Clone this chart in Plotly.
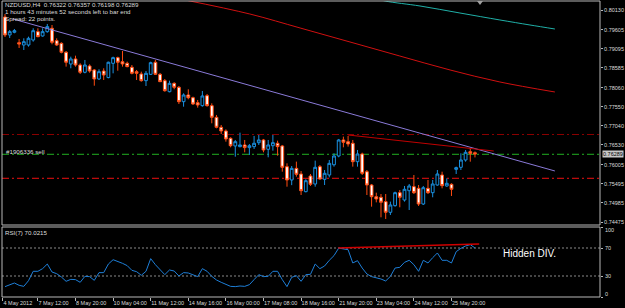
import plotly.graph_objects as go

# ---------------- data ----------------
opens = [0.79943,0.79464,0.79536,0.79258,0.79196,0.79196,0.79330,0.79552,0.79437,0.79552,
         0.79642,0.79311,0.79241,0.79002,0.78690,0.78824,0.78663,0.78469,0.78637,0.78530,
         0.78290,0.78503,0.78327,0.78708,0.78859,0.78752,0.78708,0.78602,0.78485,0.78423,
         0.78245,0.78414,0.78736,0.78414,0.78245,0.77951,0.78174,0.78068,0.77685,0.77863,
         0.77791,0.77658,0.77578,0.77845,0.77578,0.77268,0.77001,0.76903,0.76707,0.76503,
         0.76485,0.76530,0.76459,0.76485,0.76591,0.76663,0.76414,0.76510,0.76575,0.76503,
         0.75951,0.75596,0.75906,0.75755,0.75284,0.75702,0.75489,0.75951,0.75614,0.75729,
         0.76002,0.76236,0.76663,0.76618,0.76575,0.76084,0.76289,0.75817,0.75462,0.75150,
         0.75134,0.75018,0.74734,0.74911,0.75257,0.75062,0.75310,0.75418,0.75373,0.74955,
         0.75373,0.75257,0.75462,0.75729,0.75436,0.75480,0.75880,0.75934,0.76129,0.76351,
         0.76322]
highs = [0.80023,0.79597,0.79624,0.79357,0.79375,0.79419,0.79642,0.79642,0.79642,0.79757,
         0.79730,0.79375,0.79268,0.79036,0.78885,0.78912,0.78708,0.78797,0.78681,0.78557,
         0.78548,0.78575,0.78752,0.78885,0.78885,0.79036,0.78752,0.78663,0.78530,0.78485,
         0.78503,0.78752,0.78797,0.78450,0.78290,0.78245,0.78201,0.78103,0.77907,0.78015,
         0.77819,0.77730,0.77970,0.77890,0.77641,0.77330,0.77063,0.76947,0.76734,0.76663,
         0.76858,0.76663,0.76556,0.76770,0.76796,0.76690,0.76663,0.76796,0.76645,0.76530,
         0.76040,0.75968,0.76085,0.75835,0.75615,0.75755,0.76112,0.75995,0.75862,0.76129,
         0.76307,0.76690,0.76752,0.76770,0.76663,0.76396,0.76324,0.75862,0.75489,0.75257,
         0.75222,0.75222,0.75018,0.75284,0.75329,0.75436,0.75489,0.75729,0.75462,0.75436,
         0.75596,0.75596,0.75862,0.75817,0.75640,0.75507,0.75951,0.76307,0.76396,0.76441,
         0.76357]
lows = [0.79410,0.79384,0.79509,0.79117,0.79063,0.79152,0.79285,0.79402,0.79419,0.79525,
        0.79215,0.79170,0.78975,0.78619,0.78575,0.78619,0.78423,0.78441,0.78458,0.78111,
        0.78263,0.78263,0.78308,0.78441,0.78511,0.78619,0.78602,0.78414,0.78263,0.78218,
        0.78103,0.78396,0.78396,0.78210,0.77951,0.77934,0.78015,0.77623,0.77551,0.77748,
        0.77596,0.77525,0.77551,0.77551,0.77108,0.76974,0.76823,0.76618,0.76467,0.76217,
        0.76467,0.76334,0.76263,0.76423,0.76530,0.76334,0.76201,0.76378,0.76244,0.75817,
        0.75417,0.75458,0.75684,0.75195,0.75267,0.75436,0.75417,0.75596,0.75462,0.75666,
        0.75951,0.76201,0.76467,0.76485,0.75951,0.75951,0.75729,0.75195,0.74884,0.74999,
        0.74600,0.74555,0.74662,0.74884,0.74867,0.75018,0.74795,0.75222,0.74902,0.74929,
        0.75222,0.75134,0.75444,0.75373,0.75417,0.75169,0.75755,0.75862,0.76084,0.76084,
        0.76198]
closes = [0.79464,0.79552,0.79578,0.79223,0.79285,0.79375,0.79578,0.79419,0.79552,0.79686,
          0.79268,0.79196,0.79002,0.78736,0.78824,0.78663,0.78469,0.78663,0.78503,0.78290,
          0.78485,0.78396,0.78736,0.78859,0.78736,0.78690,0.78619,0.78441,0.78441,0.78245,
          0.78441,0.78725,0.78414,0.78218,0.77977,0.78174,0.78068,0.77685,0.77863,0.77791,
          0.77623,0.77596,0.77837,0.77578,0.77268,0.77001,0.76903,0.76689,0.76510,0.76618,
          0.76530,0.76459,0.76510,0.76575,0.76663,0.76396,0.76530,0.76591,0.76485,0.75934,
          0.75596,0.75906,0.75747,0.75310,0.75577,0.75481,0.75934,0.75622,0.75774,0.76040,
          0.76236,0.76663,0.76601,0.76556,0.76084,0.76289,0.75773,0.75462,0.75150,0.75089,
          0.75001,0.74734,0.74929,0.75257,0.75134,0.75347,0.75436,0.75257,0.74955,0.75390,
          0.75257,0.75489,0.75755,0.75444,0.75507,0.75347,0.75924,0.76129,0.76334,0.76307,
          0.76289]
rsi = [14.8,17.6,20.0,16.7,15.2,23.3,36.7,36.7,40.5,47.1,
       35.7,33.3,28.6,22.4,25.2,24.8,21.0,29.5,29.1,23.8,
       34.8,34.8,47.1,53.3,51.0,48.1,44.8,38.1,36.2,31.0,
       36.7,54.8,46.2,38.6,31.9,38.6,37.1,30.0,34.8,34.3,
       31.9,29.1,40.5,36.7,29.5,24.3,21.0,18.1,15.2,14.8,
       15.7,15.2,17.6,24.8,31.9,29.1,29.5,36.7,36.7,24.8,
       14.8,28.1,30.5,22.4,31.9,32.4,47.1,40.5,44.3,52.4,
       59.1,69.8,69.0,67.6,48.6,51.9,41.4,32.9,29.1,27.6,
       25.7,22.9,29.5,41.4,42.4,49.5,52.4,46.2,36.7,52.4,
       48.6,56.2,62.9,52.4,52.4,48.6,64.8,69.5,72.9,74.8,
       70.02]
bars = list(range(len(opens)))

# moving averages (bar index, price)
ma_red_x = [38.3, 52.1, 62.8, 73.4, 84.0, 94.7, 105.3, 117.0]
ma_red_y = [0.80397, 0.80023, 0.79650, 0.79277, 0.78903, 0.78530, 0.78210, 0.77943]
ma_teal_x = [77.7, 80.9, 88.3, 96.8, 105.3, 111.7, 117.0]
ma_teal_y = [0.80477, 0.80370, 0.80237, 0.80050, 0.79864, 0.79730, 0.79623]

# trend lines (bar index, price)
trend_blue_x = [1.7, 117.0]
trend_blue_y = [0.79890, 0.75836]
trend_red_x = [73.0, 104.0]
trend_red_y = [0.76796, 0.76369]
rsi_div_x = [70.9, 100.9]
rsi_div_y = [70.0, 75.6]

# horizontal levels
level_prices = [0.76809, 0.76281, 0.75641]
level_colors = ["#8b0000", "#22b022", "#ee1010"]

price_ticks = [0.80130, 0.79605, 0.79095, 0.78585, 0.78060, 0.77550,
               0.77040, 0.76530, 0.76005, 0.75495, 0.74985, 0.74475]
rsi_ticks = [0, 30, 70, 100]
time_tick_pos = [-0.43, 7, 15, 23, 31, 39, 47, 55, 63, 71, 79, 87, 95]
time_tick_text = ["4 May 2012", "7 May 12:00", "8 May 20:00", "10 May 04:00",
                  "11 May 12:00", "14 May 16:00", "16 May 00:00", "17 May 08:00",
                  "18 May 16:00", "21 May 20:00", "23 May 04:00", "24 May 12:00",
                  "25 May 20:00"]
last_price = 0.76289

# ---------------- layout helpers ----------------
W, H = 625, 308
L, R, T, B = 2, 25, 1, 11
def PX(x):
    return (x - L) / (W - L - R)
def PY(y):
    return (H - B - y) / (H - T - B)

FONT = "Liberation Sans"
TXT = "#dcdcdc"
GRID = "#b8b8b8"
FS = 6.2
FS_AX = 5.5

fig = go.Figure()

fig.add_trace(go.Candlestick(
    x=bars, open=opens, high=highs, low=lows, close=closes,
    increasing=dict(line=dict(color="#1a90e0", width=1), fillcolor="#000000"),
    decreasing=dict(line=dict(color="#ff4a10", width=1), fillcolor="#ffffff"),
    whiskerwidth=0, xaxis="x", yaxis="y", hoverinfo="skip", showlegend=False))

fig.add_trace(go.Scatter(x=ma_red_x, y=ma_red_y, mode="lines", line=dict(color="#d01010", width=1, shape="spline"),
                         xaxis="x", yaxis="y", hoverinfo="skip", showlegend=False))
fig.add_trace(go.Scatter(x=ma_teal_x, y=ma_teal_y, mode="lines", line=dict(color="#20b0a8", width=1, shape="spline"),
                         xaxis="x", yaxis="y", hoverinfo="skip", showlegend=False))
fig.add_trace(go.Scatter(x=trend_blue_x, y=trend_blue_y, mode="lines", line=dict(color="#8a7ad8", width=1),
                         xaxis="x", yaxis="y", hoverinfo="skip", showlegend=False))
fig.add_trace(go.Scatter(x=trend_red_x, y=trend_red_y, mode="lines", line=dict(color="#c00000", width=1),
                         xaxis="x", yaxis="y", hoverinfo="skip", showlegend=False))

fig.add_trace(go.Scatter(x=bars, y=rsi, mode="lines", line=dict(color="#1e7fd8", width=1),
                         xaxis="x2", yaxis="y2", hoverinfo="skip", showlegend=False))
fig.add_trace(go.Scatter(x=rsi_div_x, y=rsi_div_y, mode="lines", line=dict(color="#d00000", width=1.5),
                         xaxis="x2", yaxis="y2", hoverinfo="skip", showlegend=False))

shapes = []
for p, c in zip(level_prices, level_colors):
    shapes.append(dict(type="line", xref="paper", yref="y", x0=0, x1=1, y0=p, y1=p,
                       line=dict(color=c, width=1, dash="7px,3px,2px,3px"), layer="below"))
for v in (30, 70):
    shapes.append(dict(type="line", xref="paper", yref="y2", x0=0, x1=1, y0=v, y1=v,
                       line=dict(color="#8a8a8a", width=1, dash="2px,2px"), layer="below"))
# panel frames
main_dom = [PY(225), 1.0]
rsi_dom = [0.0, PY(227)]
shapes.append(dict(type="rect", xref="paper", yref="paper", x0=0, x1=1, y0=main_dom[0], y1=main_dom[1],
                   line=dict(color=GRID, width=1)))
shapes.append(dict(type="rect", xref="paper", yref="paper", x0=0, x1=1, y0=rsi_dom[0], y1=rsi_dom[1],
                   line=dict(color=GRID, width=1)))
# chart-shift marker
shapes.append(dict(type="path", xref="paper", yref="paper",
                   path=f"M {PX(477)} {PY(1)} L {PX(483)} {PY(1)} L {PX(480)} {PY(5)} Z",
                   fillcolor="#a0a0a0", line=dict(width=0)))

ann = []
def text(x, y, s, size=FS, color=TXT, anchor="left"):
    ann.append(dict(x=PX(x), y=PY(y), xref="paper", yref="paper", text=s, showarrow=False,
                    xanchor=anchor, yanchor="middle", font=dict(family=FONT, size=size, color=color)))

text(3, 5, "NZDUSD,H4  0.76322 0.76357 0.76198 0.76289")
text(3, 11.7, "1 hours 43 minutes 52 seconds left to bar end")
text(3, 18.3, "Spread: 22 points.")
text(4, 151, "#1906336 sell")
text(3, 232, "RSI(7) 70.0215")
text(501, 253, "Hidden DIV.", size=10, color="#ffffff")
# RSI scale labels (MT4 keeps the end labels inside the window)
for v, ypix in zip(rsi_ticks, [294, 276, 248, 230]):
    text(603, ypix, str(v), size=FS_AX)
ann.append(dict(x=1, y=last_price, xref="paper", yref="y", text=f"{last_price:.5f}", showarrow=False,
                xanchor="left", yanchor="middle", xshift=2, bgcolor="#c8c8c8", borderpad=0,
                font=dict(family=FONT, size=FS_AX, color="#000000")))

fig.update_layout(
    width=W, height=H, margin=dict(l=L, r=R, t=T, b=B, pad=0, autoexpand=False),
    paper_bgcolor="#000000", plot_bgcolor="#000000",
    showlegend=False, shapes=shapes, annotations=ann, boxgap=0.15,
    xaxis=dict(domain=[0, 1], anchor="y", range=[-0.638, 126.6], showticklabels=False, ticks="",
               showgrid=False, zeroline=False, showline=False, rangeslider=dict(visible=False),
               automargin=False),
    xaxis2=dict(domain=[0, 1], anchor="y2", range=[-0.638, 126.6], matches="x",
                tickmode="array", tickvals=time_tick_pos, ticktext=time_tick_text,
                ticks="outside", ticklen=3, tickcolor=GRID, ticklabelposition="outside right",
                tickangle=0, automargin=False,
                tickfont=dict(family=FONT, size=FS_AX, color=TXT),
                showgrid=False, zeroline=False, showline=False),
    yaxis=dict(domain=main_dom, anchor="x", side="right", range=[0.74395, 0.80370],
               tickmode="array", tickvals=price_ticks, ticktext=[f"{v:.5f}" for v in price_ticks],
               ticks="outside", ticklen=2, tickcolor=GRID, automargin=False, ticklabelstandoff=0,
               tickfont=dict(family=FONT, size=FS_AX, color=TXT),
               showgrid=False, zeroline=False, showline=False),
    yaxis2=dict(domain=rsi_dom, anchor="x2", side="right", range=[0, 100],
                tickmode="array", tickvals=rsi_ticks, showticklabels=False,
                ticks="outside", ticklen=2, tickcolor=GRID, automargin=False,
                showgrid=False, zeroline=False, showline=False),
)

fig.write_html("out.html")
